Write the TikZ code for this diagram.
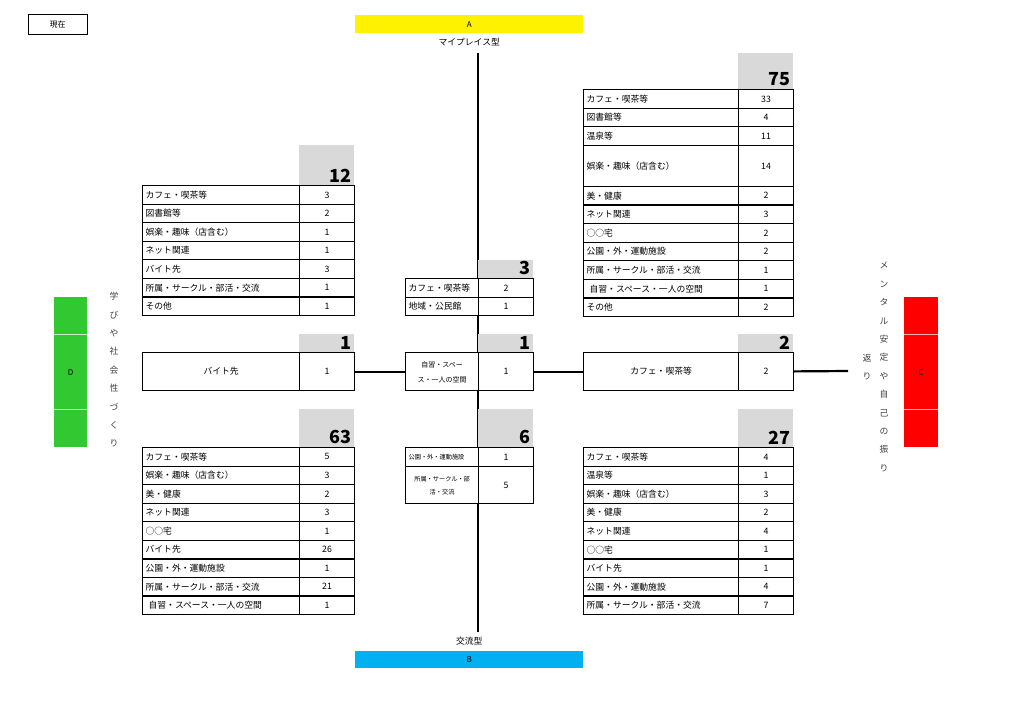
\documentclass[tikz,border=0pt]{standalone}
\usepackage{fontspec}
\setmainfont{Noto Sans CJK JP}
\usetikzlibrary{positioning}
\definecolor{poleB}{RGB}{0,176,240}
\definecolor{poleD}{RGB}{50,200,50}

% one table: name, x, top y, label width, rows {label/value/height}
\newcommand\qtable[5]{%
  \foreach \lab/\val/\h [count=\i, remember=\ny as \y (initially #3)] in {#5}{%
    \pgfmathsetmacro\ny{\y+\h}
    \node[lab, text width=#4-6, minimum height=\h] (#1-l\i) at (#2,\y) {\lab};
    \node[num, minimum height=\h] (#1-n\i) at (#2+#4,\y) {\val};
  }}
% gray head cell with its total
\newcommand\qhead[5]{%
  \node[head, minimum height=#4] (#1) at (#2,#3) {};
  \node[anchor=south east, font=\fontsize{18}{18}\selectfont\bfseries, inner xsep=3, inner ysep=3] (#1-t) at (#1.south east) {#5};}

\begin{document}
\begin{tikzpicture}[
    x=1pt, y=-1pt,
    lab/.style={draw, line width=1.2, fill=white, anchor=north west, inner xsep=3, inner ysep=0,
      align=left, font=\fontsize{8.8}{11}\selectfont},
    num/.style={draw, line width=1.2, fill=white, anchor=north west, inner sep=0,
      minimum width=55, align=center, font=\fontsize{8.8}{11}\selectfont},
    head/.style={fill=gray!30, anchor=north west, inner sep=0, minimum width=55},
    axis/.style={line width=2.2},
    pole/.style={anchor=north west, inner sep=0, font=\fontsize{8}{8}\selectfont},
    vtext/.style={align=center, inner sep=0, font=\fontsize{8.8}{18.4}\selectfont, text=black!75}
]
\useasboundingbox (0,0) rectangle (1027,726);

% axes
\coordinate (top) at (478,53);
\coordinate (bot) at (478,632);
\draw[axis] (top) -- (bot);

% poles
\node[pole, draw, minimum width=59, minimum height=20] (now) at (28,14) {現在};
\node[pole, fill=yellow, minimum width=228, minimum height=18] (A) at (355,15) {A};
\node[below=1pt of A, font=\fontsize{8.8}{9}\selectfont] (Alab) {マイプレイス型};
\node[pole, fill=poleB, minimum width=228, minimum height=17] (B) at (355,651) {B};
\node[above=2pt of B, font=\fontsize{8.8}{9}\selectfont] (Blab) {交流型};
\node[pole, fill=poleD, minimum width=33, minimum height=150] (D) at (54,297) {D};
\node[pole, fill=red, minimum width=34, minimum height=150] (C) at (904,297) {C};
\draw[white!70!poleD] (54,334) -- (87,334) (54,409) -- (87,409);
\draw[white!70!red] (904,334) -- (938,334) (904,409) -- (938,409);
\node[vtext, anchor=north] (Dlab) at (114,292) {学\\び\\や\\社\\会\\性\\づ\\く\\り};
\node[vtext, anchor=north] (Clab) at (884,262) {メ\\ン\\タ\\ル\\安\\定\\や\\自\\己\\の\\振\\り};
\node[vtext, anchor=north] (Clab2) at (867,354) {返\\り};

% upper left
\qhead{hUL}{299}{145}{40}{12}
\qtable{UL}{142}{185}{157}{カフェ・喫茶等/3/18.57, 図書館等/2/18.57, 娯楽・趣味（店含む）/1/18.57,
  ネット関連/1/18.57, バイト先/3/18.57, 所属・サークル・部活・交流/1/18.57, その他/1/18.57}

% upper right
\qhead{hUR}{738}{53}{36}{75}
\qtable{UR}{583}{89}{155}{カフェ・喫茶等/33/18.6, 図書館等/4/18.6, 温泉等/11/18.6, 娯楽・趣味（店含む）/14/41,
  美・健康/2/18.6, ネット関連/3/18.6, ○○宅/2/18.6, 公園・外・運動施設/2/18.6,
  所属・サークル・部活・交流/1/18.6, {\hspace{3pt}自習・スペース・一人の空間}/1/18.6, その他/2/18.6}

% upper center
\qhead{hUC}{478}{260}{18}{3}
\qtable{UC}{405}{278}{73}{カフェ・喫茶等/2/18.5, 地域・公民館/1/18.5}

% middle row
\qhead{hML}{299}{334}{18}{1}
\qtable{ML}{142}{352}{157}{{\hfill バイト先\hfill\null}/1/38}
\qhead{hMC}{478}{334}{18}{1}
\qtable{MC}{405}{352}{73}{{\hfill\fontsize{7}{15}\selectfont\begin{tabular}{@{}c@{}}自習・スペー\\ス・一人の空間\end{tabular}\hfill\null}/1/38}
\qhead{hMR}{738}{334}{18}{2}
\qtable{MR}{583}{352}{155}{{\hfill カフェ・喫茶等\hfill\null}/2/38}
\coordinate (Cend) at (848,371);
\draw[axis] (ML-n1) -- (MC-l1);
\draw[axis] (MC-n1) -- (MR-l1);
\draw[axis] (MR-n1) -- (Cend);

% lower left
\qhead{hLL}{299}{409}{38}{63}
\qtable{LL}{142}{447}{157}{カフェ・喫茶等/5/18.55, 娯楽・趣味（店含む）/3/18.55, 美・健康/2/18.55,
  ネット関連/3/18.55, ○○宅/1/18.55, バイト先/26/18.55, 公園・外・運動施設/1/18.55,
  所属・サークル・部活・交流/21/18.55, {\hspace{3pt}自習・スペース・一人の空間}/1/18.55}

% lower center
\qhead{hLC}{478}{409}{38}{6}
\qtable{LC}{405}{447}{73}{{\fontsize{6.2}{8}\selectfont 公園・外・運動施設}/1/19,
  {\hfill\fontsize{6.2}{13}\selectfont\begin{tabular}{@{}c@{}}所属・サークル・部\\活・交流\end{tabular}\hfill\null}/5/37}

% lower right
\qhead{hLR}{738}{409}{38}{27}
\qtable{LR}{583}{447}{155}{カフェ・喫茶等/4/18.55, 温泉等/1/18.55, 娯楽・趣味（店含む）/3/18.55,
  美・健康/2/18.55, ネット関連/4/18.55, ○○宅/1/18.55, バイト先/1/18.55,
  公園・外・運動施設/4/18.55, 所属・サークル・部活・交流/7/18.55}
\end{tikzpicture}
\end{document}
